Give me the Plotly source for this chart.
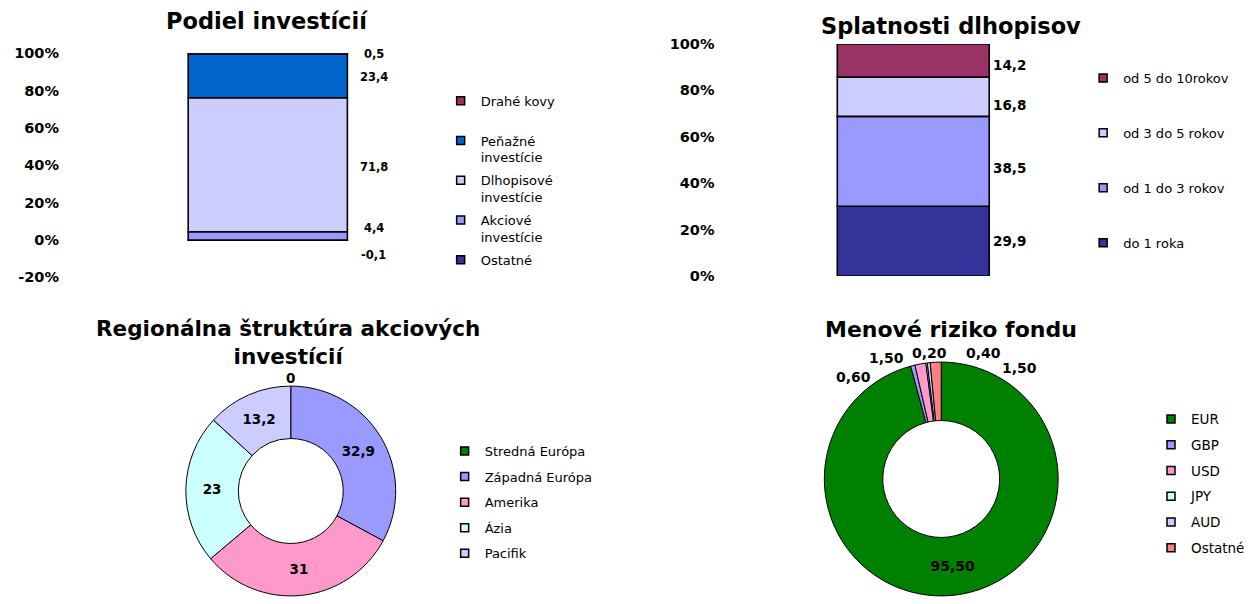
import math
import plotly.graph_objects as go

# ------------------------------------------------------------------ data
invest_title = "Podiel investícií"
invest_categories = ["Drahé kovy", "Peňažné investície", "Dlhopisové investície",
                     "Akciové investície", "Ostatné"]
invest_values = [0.5, 23.4, 71.8, 4.4, -0.1]

bond_title = "Splatnosti dlhopisov"
bond_categories = ["od 5 do 10rokov", "od 3 do 5 rokov", "od 1 do 3 rokov", "do 1 roka"]
bond_values = [14.2, 16.8, 38.5, 29.9]

region_title = "Regionálna štruktúra akciových<br>investícií"
region_categories = ["Stredná Európa", "Západná Európa", "Amerika", "Ázia", "Pacifik"]
region_values = [0, 32.9, 31, 23, 13.2]

currency_title = "Menové riziko fondu"
currency_categories = ["EUR", "GBP", "USD", "JPY", "AUD", "Ostatné"]
currency_values = [95.50, 0.60, 1.50, 0.20, 0.40, 1.50]

invest_ticks = [-20, 0, 20, 40, 60, 80, 100]
bond_ticks = [0, 20, 40, 60, 80, 100]
stack_x = ["Fond"]

# ------------------------------------------------------------------ style
W, H = 1250, 604
H_EFF, Y_OFF = 588, 8          # effective drawing height observed in the viewer
FONT = "DejaVu Sans"
invest_colors = ["#993366", "#0066CC", "#CCCCFF", "#9999FF", "#333399"]
bond_colors = ["#993366", "#CCCCFF", "#9999FF", "#333399"]
region_colors = ["#008000", "#9999FF", "#FF99CC", "#CCFFFF", "#CCCCFF"]
currency_colors = ["#008000", "#9999FF", "#FF99CC", "#CCFFFF", "#CCCCFF", "#FF8080"]
invest_label_yshift = [0, -1, -2, 8, -15]
bond_label_yshift = [-4, -8, -7, 0]
pie4_label_angles = [None, -40.7, -24.5, -5.4, 18.4, 35.4]
pie4_label_radii = [None, 135, 133, 127, 133, 136]


def px(x):
    return min(1.0, max(0.0, x / W))


def py(y):
    return min(1.0, max(0.0, (H_EFF - (y - Y_OFF)) / H_EFF))


def fmt1(v):
    return f"{v:.1f}".replace(".", ",")


def fmt2(v):
    return f"{v:.2f}".replace(".", ",")


def fmtg(v):
    return ("%g" % v).replace(".", ",")


def bold(size):
    return dict(family=FONT, size=size, color="black", weight="bold")


fig = go.Figure()
annotations = []

# ------------------------------------------------------------------ chart 1 (stacked bar)
pos_cum, neg_cum = 0.0, 0.0
mids1 = {}
for i in reversed(range(len(invest_categories))):
    v = invest_values[i]
    fig.add_trace(go.Bar(
        x=stack_x, y=[v], name=invest_categories[i], width=0.383,
        marker=dict(color=invest_colors[i], line=dict(color="black", width=1.6)),
        xaxis="x", yaxis="y", showlegend=False))
    if v >= 0:
        mids1[i] = pos_cum + v / 2
        pos_cum += v
    else:
        mids1[i] = neg_cum + v / 2
        neg_cum += v
for i, v in enumerate(invest_values):
    annotations.append(dict(x=stack_x[0], y=mids1[i], xref="x", yref="y", text=fmt1(v),
                            showarrow=False, xanchor="center", xshift=106,
                            yshift=invest_label_yshift[i], font=bold(11.5)))


def legend1_label(name, i, n):
    if " investície" in name:
        return name.replace(" investície", "<br>investície")
    if i < n - 1:
        return name + "<br>\u00a0"
    return name


for i, c in enumerate(invest_categories):
    fig.add_trace(go.Scatter(
        x=[None], y=[None], mode="markers", name=legend1_label(c, i, len(invest_categories)),
        marker=dict(symbol="square", size=8, color=invest_colors[i], line=dict(color="black", width=1.5)),
        legend="legend", legendgroup="g1_%d" % i, xaxis="x", yaxis="y", hoverinfo="skip"))

# ------------------------------------------------------------------ chart 2 (100% stacked bar)
bond_total = sum(bond_values)
bond_pct = [v / bond_total * 100 for v in bond_values]
cum = 0.0
mids2 = {}
for i in reversed(range(len(bond_categories))):
    fig.add_trace(go.Bar(
        x=stack_x, y=[bond_pct[i]], name=bond_categories[i], width=0.384,
        marker=dict(color=bond_colors[i], line=dict(color="black", width=1.6)),
        xaxis="x2", yaxis="y2", showlegend=False))
    mids2[i] = cum + bond_pct[i] / 2
    cum += bond_pct[i]
for i, v in enumerate(bond_values):
    annotations.append(dict(x=stack_x[0], y=mids2[i], xref="x2", yref="y2", text=fmt1(v),
                            showarrow=False, xanchor="left", xshift=78,
                            yshift=bond_label_yshift[i], font=bold(13.5)))
for i, c in enumerate(bond_categories):
    fig.add_trace(go.Scatter(
        x=[None], y=[None], mode="markers", name=c,
        marker=dict(symbol="square", size=8, color=bond_colors[i], line=dict(color="black", width=1.5)),
        legend="legend2", legendgroup="g2_%d" % i, xaxis="x2", yaxis="y2", hoverinfo="skip"))

# ------------------------------------------------------------------ chart 3 (donut)
pie3_box = (186, 386, 396, 596)  # left, top, right, bottom in px
fig.add_trace(go.Pie(
    labels=region_categories, values=region_values, hole=0.5, sort=False,
    direction="clockwise", rotation=0,
    domain=dict(x=[px(pie3_box[0]), px(pie3_box[2])], y=[py(pie3_box[3]), py(pie3_box[1])]),
    marker=dict(colors=region_colors, line=dict(color="black", width=1)),
    text=[fmtg(v) for v in region_values], textinfo="text",
    textposition=["none" if v == 0 else "inside" for v in region_values],
    insidetextorientation="horizontal", insidetextfont=bold(13.5),
    showlegend=False, hoverinfo="label+value"))
cx3 = (pie3_box[0] + pie3_box[2]) / 2
cy3 = (pie3_box[1] + pie3_box[3]) / 2
r3 = min(pie3_box[2] - pie3_box[0], pie3_box[3] - pie3_box[1]) / 2
tot3 = sum(region_values)
cum = 0.0
for i, v in enumerate(region_values):
    if v == 0:
        ang = math.radians((cum + v / 2) / tot3 * 360)
        lx = cx3 + (r3 + 8) * math.sin(ang)
        ly = cy3 - (r3 + 8) * math.cos(ang)
        annotations.append(dict(x=px(lx), y=py(ly), xref="paper", yref="paper", text=fmtg(v),
                                showarrow=False, xanchor="center", yanchor="middle",
                                font=bold(13.5)))
    cum += v
for i, c in enumerate(region_categories):
    fig.add_trace(go.Scatter(
        x=[None], y=[None], mode="markers", name=c,
        marker=dict(symbol="square", size=8, color=region_colors[i], line=dict(color="black", width=1.5)),
        legend="legend3", legendgroup="g3_%d" % i, xaxis="x", yaxis="y", hoverinfo="skip"))

# ------------------------------------------------------------------ chart 4 (donut)
pie4_box = (825, 362, 1059, 596)
fig.add_trace(go.Pie(
    labels=currency_categories, values=currency_values, hole=0.5, sort=False,
    direction="clockwise", rotation=0,
    domain=dict(x=[px(pie4_box[0]), px(pie4_box[2])], y=[py(pie4_box[3]), py(pie4_box[1])]),
    marker=dict(colors=currency_colors, line=dict(color="black", width=1)),
    text=[fmt2(v) for v in currency_values], textinfo="text",
    textposition=["inside" if a is None else "none" for a in pie4_label_angles],
    insidetextorientation="horizontal", insidetextfont=bold(14),
    showlegend=False, hoverinfo="label+value"))
cx4 = (pie4_box[0] + pie4_box[2]) / 2
cy4 = (pie4_box[1] + pie4_box[3]) / 2
for i, v in enumerate(currency_values):
    a = pie4_label_angles[i]
    if a is None:
        continue
    rr = pie4_label_radii[i]
    lx = cx4 + rr * math.sin(math.radians(a))
    ly = cy4 - rr * math.cos(math.radians(a))
    annotations.append(dict(x=px(lx), y=py(ly), xref="paper", yref="paper", text=fmt2(v),
                            showarrow=False, xanchor="center", yanchor="middle",
                            font=bold(14)))
for i, c in enumerate(currency_categories):
    fig.add_trace(go.Scatter(
        x=[None], y=[None], mode="markers", name=c,
        marker=dict(symbol="square", size=8, color=currency_colors[i], line=dict(color="black", width=1.5)),
        legend="legend4", legendgroup="g4_%d" % i, xaxis="x", yaxis="y", hoverinfo="skip"))

# ------------------------------------------------------------------ titles
title_common = dict(xref="paper", yref="paper", showarrow=False, xanchor="center", yanchor="middle")
annotations += [
    dict(x=px(267), y=py(21), text=invest_title, font=bold(22.5), **title_common),
    dict(x=px(952), y=py(26), text=bond_title, font=bold(22.5), **title_common),
    dict(x=px(288), y=py(342), text=region_title, font=bold(21.5), **title_common),
    dict(x=px(952), y=py(329), text=currency_title, font=bold(22), **title_common),
]

hidden_x = dict(type="category", range=[-0.5, 0.5], showgrid=False, zeroline=False,
                showline=False, showticklabels=False, ticks="", fixedrange=True)

legend_common = dict(xanchor="left", yanchor="top", bgcolor="rgba(0,0,0,0)",
                     borderwidth=0, valign="top", itemclick=False, itemdoubleclick=False)

fig.update_layout(
    width=W, height=H, autosize=False,
    margin=dict(l=0, r=0, t=0, b=0),
    paper_bgcolor="white", plot_bgcolor="white",
    barmode="relative",
    font=dict(family=FONT, color="black"),
    xaxis=dict(domain=[px(60), px(476)], **hidden_x),
    yaxis=dict(domain=[py(277.3), py(53.3)], range=[-20, 100], tickvals=invest_ticks,
               ticktext=["%d%%" % t for t in invest_ticks], tickfont=bold(14.5),
               showgrid=False, zeroline=False, showline=False, ticks="", fixedrange=True),
    xaxis2=dict(domain=[px(716), px(1112)], anchor="y2", **hidden_x),
    yaxis2=dict(domain=[py(276), py(44)], range=[0, 100], anchor="x2", tickvals=bond_ticks,
                ticktext=["%d%%" % t for t in bond_ticks], tickfont=bold(14.5),
                showgrid=False, zeroline=False, showline=False, ticks="", fixedrange=True),
    legend=dict(x=px(441), y=py(85.7), font=dict(family=FONT, size=13), tracegroupgap=3,
                **legend_common),
    legend2=dict(x=px(1084), y=py(63), font=dict(family=FONT, size=13), tracegroupgap=35,
                 **legend_common),
    legend3=dict(x=px(445), y=py(436), font=dict(family=FONT, size=13), tracegroupgap=5.7,
                 **legend_common),
    legend4=dict(x=px(1152), y=py(403.6), font=dict(family=FONT, size=13.5), tracegroupgap=5.2,
                 **legend_common),
    annotations=annotations,
    showlegend=True,
)

fig.write_html("out.html", config={"displayModeBar": False},
               post_script="document.body.style.margin='0';document.body.style.overflow='hidden';")
